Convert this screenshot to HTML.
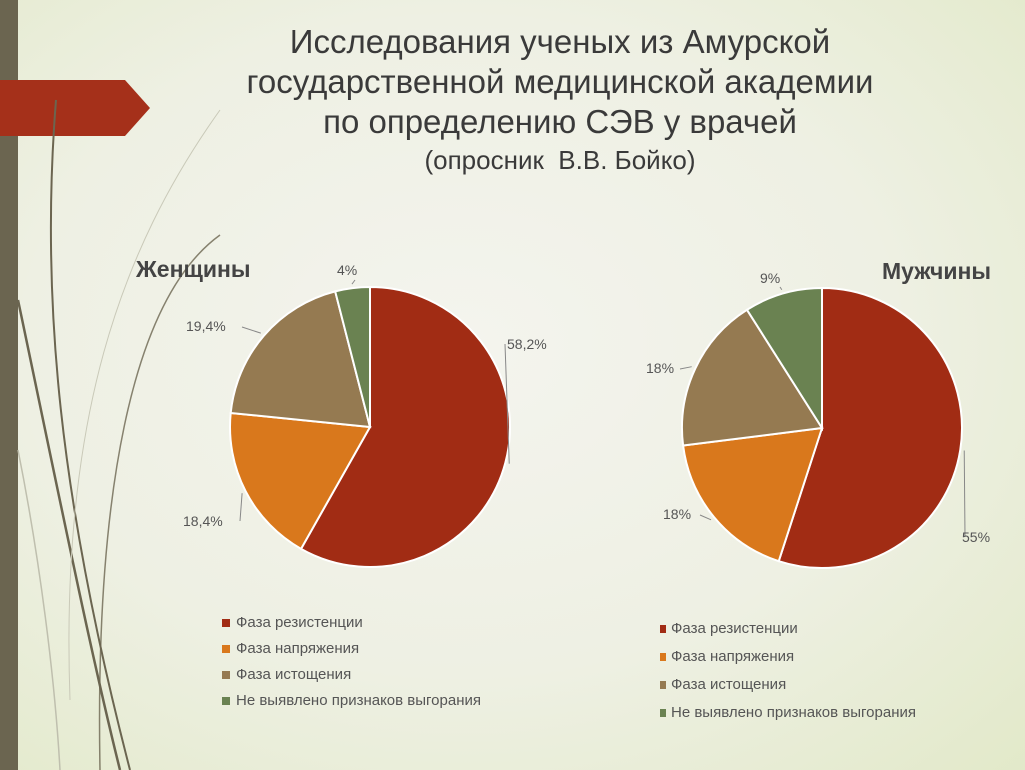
<!DOCTYPE html>
<html><head><meta charset="utf-8"><style>
body{margin:0;width:1025px;height:770px;overflow:hidden;font-family:"Liberation Sans","DejaVu Sans",sans-serif;}
#bg{position:absolute;left:0;top:0;width:1025px;height:770px;background:radial-gradient(ellipse at 45% 45%,#f4f4ee 0%,#eef0e3 55%,#e2e9c9 100%);}
.t{position:absolute;color:#444;text-align:center;}
</style></head><body>
<div id="bg"></div>
<svg width="1025" height="770" style="position:absolute;left:0;top:0">
<rect x="0" y="0" width="18" height="770" fill="#6b6550"/>
<polygon points="0,80 125,80 150,108 125,136 0,136" fill="#a5301a"/>
<g fill="none" stroke="#6b6550" stroke-width="2">
<path d="M56,100 C40,300 60,500 130,770"/>
<path d="M18,300 C60,500 90,650 120,770" stroke-width="2.5"/>
<path d="M220,235 C130,300 95,500 100,770" stroke-width="1.5" opacity="0.8"/>
<path d="M220,110 C120,250 60,420 70,700" stroke="#c9c9b8" stroke-width="1"/>
<path d="M18,450 C40,560 55,680 60,770" stroke="#bfbfae" stroke-width="1.5"/>
</g>
</svg>
<div class="t" style="left:150px;top:22px;width:820px;font-size:33px;line-height:40px;color:#3a3a3a;">Исследования ученых из Амурской<br>государственной медицинской академии<br>по определению СЭВ у врачей</div>
<div class="t" style="left:300px;top:145px;width:520px;font-size:26px;color:#3a3a3a;">(опросник&nbsp; В.В. Бойко)</div>
<div class="t" style="left:136px;top:256px;font-size:23px;font-weight:bold;">Женщины</div>
<div class="t" style="left:882px;top:258px;font-size:23px;font-weight:bold;">Мужчины</div>
<svg id="charts" width="1025" height="770" style="position:absolute;left:0;top:0"></svg>
<script>
const categories=["Фаза резистенции","Фаза напряжения","Фаза истощения","Не выявлено признаков выгорания"];
const womenValues=[58.2,18.4,19.4,4];
const menValues=[55,18,18,9];
const womenLabels=["58,2%","18,4%","19,4%","4%"];
const menLabels=["55%","18%","18%","9%"];
const colors=["#a12c14","#d9781c","#957a51","#6a8251"];
const NS="http://www.w3.org/2000/svg";
const svg=document.getElementById('charts');
function mk(t,a){const e=document.createElementNS(NS,t);for(const k in a)e.setAttribute(k,a[k]);svg.appendChild(e);return e;}
function pie(cx,cy,r,vals,labels,prefix,labelPos){
 const tot=vals.reduce((a,b)=>a+b,0);let a0=0;
 vals.forEach((v,i)=>{
  const a1=a0+v/tot*2*Math.PI;
  const p=(a)=>[cx+r*Math.sin(a),cy-r*Math.cos(a)];
  const [x0,y0]=p(a0),[x1,y1]=p(a1);
  const path=mk('path',{d:`M${cx},${cy}L${x0},${y0}A${r},${r} 0 ${a1-a0>Math.PI?1:0} 1 ${x1},${y1}Z`,fill:colors[i],stroke:'#fff','stroke-width':2});
  
  
  const mid=(a0+a1)/2;const [ex,ey]=[cx+(r+4)*Math.sin(mid),cy-(r+4)*Math.cos(mid)];
  const lp=labelPos[i];
  const ln=mk('polyline',{points:`${ex},${ey} ${lp[2]},${lp[3]}`,fill:'none',stroke:'#888','stroke-width':1});
  
  
  const t=mk('text',{x:lp[0],y:lp[1],'font-size':14,fill:'#555','font-family':'Liberation Sans, sans-serif'});
  t.textContent=labels[i];
  
  
  a0=a1;
 });
}
pie(370,427,140,womenValues,womenLabels,'women',[[507,349,505,344],[183,526,240,521],[186,331,242,327],[337,275,355,280]]);
pie(822,428,140,menValues,menLabels,'men',[[962,542,965,537],[663,519,700,515],[646,373,680,369],[760,283,780,287]]);
</script>
<div style="position:absolute;left:222px;top:610px;font-size:15px;color:#555;line-height:26px;">
<div><span style="display:inline-block;width:8px;height:8px;background:#a12c14;margin-right:6px"></span>Фаза резистенции</div>
<div><span style="display:inline-block;width:8px;height:8px;background:#d9781c;margin-right:6px"></span>Фаза напряжения</div>
<div><span style="display:inline-block;width:8px;height:8px;background:#957a51;margin-right:6px"></span>Фаза истощения</div>
<div><span style="display:inline-block;width:8px;height:8px;background:#6a8251;margin-right:6px"></span>Не выявлено признаков выгорания</div>
</div>
<div style="position:absolute;left:660px;top:615px;font-size:15px;color:#555;line-height:28px;">
<div><span style="display:inline-block;width:6px;height:8px;background:#a12c14;margin-right:5px"></span>Фаза резистенции</div>
<div><span style="display:inline-block;width:6px;height:8px;background:#d9781c;margin-right:5px"></span>Фаза напряжения</div>
<div><span style="display:inline-block;width:6px;height:8px;background:#957a51;margin-right:5px"></span>Фаза истощения</div>
<div><span style="display:inline-block;width:6px;height:8px;background:#6a8251;margin-right:5px"></span>Не выявлено признаков выгорания</div>
</div>
</body></html>
